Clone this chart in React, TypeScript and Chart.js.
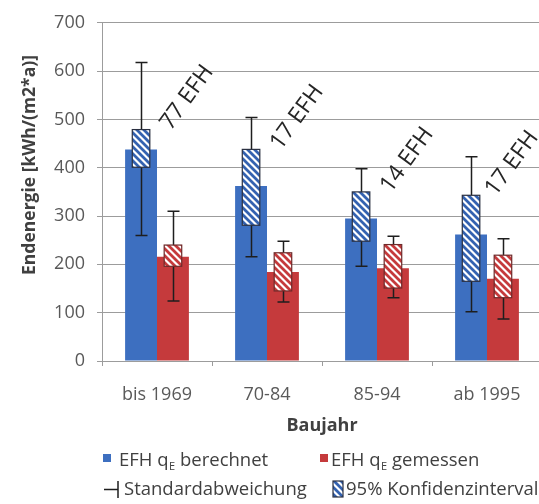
import React, { useEffect, useRef } from 'react';
import { Chart, registerables } from 'chart.js';

Chart.register(...registerables);

const categories = ['bis 1969', '70-84', '85-94', 'ab 1995'];
const calcValues = [438, 362, 295, 262];
const measValues = [216, 184, 192, 170];
const calcSdLow = [260, 216, 196, 102];
const calcSdHigh = [618, 504, 398, 423];
const measSdLow = [124, 122, 131, 87];
const measSdHigh = [310, 248, 258, 253];
const calcCiLow = [401, 281, 248, 165];
const calcCiHigh = [479, 438, 350, 343];
const measCiLow = [196, 145, 151, 131];
const measCiHigh = [240, 224, 241, 219];
const sampleLabels = ['77 EFH', '17 EFH', '14 EFH', '17 EFH'];
const yAxisTitle = 'Endenergie [kWh/(m2*a)]';
const xAxisTitle = 'Baujahr';
const legendCalc = ['EFH q', 'E', ' berechnet'];
const legendMeas = ['EFH q', 'E', ' gemessen'];
const legendSd = 'Standardabweichung';
const legendCi = '95% Konfidenzintervall';

const BLUE = '#3d6fc0';
const RED = '#c53a3c';
const GRID = '#9c9c9c';
const FONT = "'Open Sans', sans-serif";

function makeHatch(color: string): CanvasPattern | string {
  const s = 7;
  const c = document.createElement('canvas');
  c.width = s;
  c.height = s;
  const g = c.getContext('2d');
  if (!g) return color;
  g.fillStyle = '#ffffff';
  g.fillRect(0, 0, s, s);
  g.strokeStyle = color;
  g.lineWidth = 2.8;
  g.beginPath();
  for (const k of [-s, 0, s]) {
    g.moveTo(-2, -2 + k);
    g.lineTo(s + 2, s + 2 + k);
  }
  g.stroke();
  const p = g.createPattern(c, 'repeat');
  return p || color;
}

function drawSubText(ctx: CanvasRenderingContext2D, parts: string[], x: number, y: number, size: number) {
  ctx.font = `${size}px ${FONT}`;
  ctx.fillText(parts[0], x, y);
  let cx = x + ctx.measureText(parts[0]).width + 0.5;
  ctx.font = `${Math.round(size * 0.62)}px ${FONT}`;
  ctx.fillText(parts[1], cx, y + 4);
  cx += ctx.measureText(parts[1]).width;
  ctx.font = `${size}px ${FONT}`;
  ctx.fillText(parts[2], cx, y);
}

export default function App() {
  const ref = useRef<HTMLCanvasElement | null>(null);

  useEffect(() => {
    const canvas = ref.current;
    if (!canvas) return;
    const hatchBlue = makeHatch('#3462b0');
    const hatchRed = makeHatch(RED);

    const overlay = {
      id: 'overlay',
      afterDatasetsDraw(chart: any) {
        const ctx: CanvasRenderingContext2D = chart.ctx;
        const ys = chart.scales.y;
        const groups = [
          { meta: chart.getDatasetMeta(0), lo: calcSdLow, hi: calcSdHigh, ciLo: calcCiLow, ciHi: calcCiHigh, fill: hatchBlue, border: '#2a2f40' },
          { meta: chart.getDatasetMeta(1), lo: measSdLow, hi: measSdHigh, ciLo: measCiLow, ciHi: measCiHigh, fill: hatchRed, border: '#6e2a2a' },
        ];
        ctx.save();
        const cap = 12;
        groups.forEach((g) => {
          g.meta.data.forEach((bar: any, i: number) => {
            const x = Math.round(bar.x) + 0.5;
            const yl = ys.getPixelForValue(g.lo[i]);
            const yh = ys.getPixelForValue(g.hi[i]);
            ctx.strokeStyle = '#1e1e1e';
            ctx.lineWidth = 1.5;
            ctx.beginPath();
            ctx.moveTo(x, yl);
            ctx.lineTo(x, yh);
            ctx.moveTo(x - cap / 2, yh);
            ctx.lineTo(x + cap / 2, yh);
            ctx.moveTo(x - cap / 2, yl);
            ctx.lineTo(x + cap / 2, yl);
            ctx.stroke();
          });
        });
        groups.forEach((g) => {
          g.meta.data.forEach((bar: any, i: number) => {
            const w = bar.width * 0.55;
            const yl = ys.getPixelForValue(g.ciLo[i]);
            const yh = ys.getPixelForValue(g.ciHi[i]);
            ctx.fillStyle = g.fill as any;
            ctx.fillRect(bar.x - w / 2, yh, w, yl - yh);
            ctx.strokeStyle = g.border;
            ctx.lineWidth = 1.2;
            ctx.strokeRect(bar.x - w / 2, yh, w, yl - yh);
          });
        });
        // sample count annotations
        ctx.fillStyle = '#262626';
        ctx.font = `23px ${FONT}`;
        ctx.textAlign = 'center';
        ctx.textBaseline = 'middle';
        chart.getDatasetMeta(0).data.forEach((bar: any, i: number) => {
          const cx = Math.min(bar.x + 46, chart.chartArea.right - 30);
          const cy = ys.getPixelForValue(calcCiHigh[i]) - 32;
          ctx.save();
          ctx.translate(cx, cy);
          ctx.rotate((-54 * Math.PI) / 180);
          ctx.fillText(sampleLabels[i], 0, 0);
          ctx.restore();
        });
        ctx.restore();
      },
      afterDraw(chart: any) {
        const ctx: CanvasRenderingContext2D = chart.ctx;
        ctx.save();
        // y axis title
        ctx.fillStyle = '#404040';
        ctx.font = `bold 17.5px ${FONT}`;
        ctx.textAlign = 'center';
        ctx.textBaseline = 'middle';
        ctx.translate(30, 165);
        ctx.rotate(-Math.PI / 2);
        ctx.fillText(yAxisTitle, 0, 0);
        ctx.restore();

        // legend
        ctx.save();
        ctx.textAlign = 'left';
        ctx.textBaseline = 'alphabetic';
        ctx.fillStyle = BLUE;
        ctx.fillRect(103, 454, 8, 8);
        ctx.fillStyle = '#404040';
        drawSubText(ctx, legendCalc, 119, 466, 18.5);
        ctx.fillStyle = RED;
        ctx.fillRect(320, 454, 8, 8);
        ctx.fillStyle = '#404040';
        drawSubText(ctx, legendMeas, 331, 466, 18.5);

        ctx.strokeStyle = '#1e1e1e';
        ctx.lineWidth = 1.5;
        ctx.beginPath();
        ctx.moveTo(104, 489.5);
        ctx.lineTo(118, 489.5);
        ctx.moveTo(118, 481);
        ctx.lineTo(118, 498);
        ctx.stroke();
        ctx.fillStyle = '#404040';
        ctx.font = `18.5px ${FONT}`;
        ctx.fillText(legendSd, 124, 495);

        ctx.fillStyle = hatchBlue as any;
        ctx.fillRect(333, 481, 10, 16);
        ctx.strokeStyle = '#2a2f40';
        ctx.lineWidth = 1.2;
        ctx.strokeRect(333, 481, 10, 16);
        ctx.fillStyle = '#404040';
        ctx.fillText(legendCi, 346, 495);
        ctx.restore();
      },
    };

    const chart = new Chart(canvas, {
      type: 'bar',
      data: {
        labels: categories,
        datasets: [
          { label: 'EFH qE berechnet', data: calcValues, backgroundColor: BLUE, borderWidth: 0 },
          { label: 'EFH qE gemessen', data: measValues, backgroundColor: RED, borderWidth: 0 },
        ],
      },
      options: {
        responsive: false,
        animation: false,
        devicePixelRatio: 1,
        layout: { padding: { left: 0, right: 0, top: 17, bottom: 63 } },
        datasets: { bar: { categoryPercentage: 0.58, barPercentage: 1 } },
        plugins: { legend: { display: false }, tooltip: { enabled: false } },
        scales: {
          x: {
            grid: { display: true, drawOnChartArea: false, offset: true, tickLength: 5, color: GRID },
            border: { display: true, color: GRID },
            ticks: { color: '#595959', font: { family: FONT, size: 18 }, padding: 18 },
            title: {
              display: true,
              text: xAxisTitle,
              color: '#404040',
              font: { family: FONT, size: 18, weight: 'bold' },
              padding: { top: 0, bottom: 4 },
            },
            afterFit: (s: any) => {
              s.height = 80;
            },
          },
          y: {
            min: 0,
            max: 700,
            ticks: { stepSize: 100, color: '#595959', font: { family: FONT, size: 18 }, padding: 12 },
            grid: { color: GRID, tickLength: 5 },
            border: { display: true, color: GRID },
            afterFit: (s: any) => {
              s.width = 102;
            },
          },
        },
      },
      plugins: [overlay],
    } as any);
    return () => chart.destroy();
  }, []);

  return (
    <div style={{ position: 'fixed', left: 0, top: 0, width: 539, height: 504, overflow: 'hidden', background: '#fff' }}>
      <canvas ref={ref} width={542} height={504} style={{ width: 542, height: 504, display: 'block' }} />
    </div>
  );
}
